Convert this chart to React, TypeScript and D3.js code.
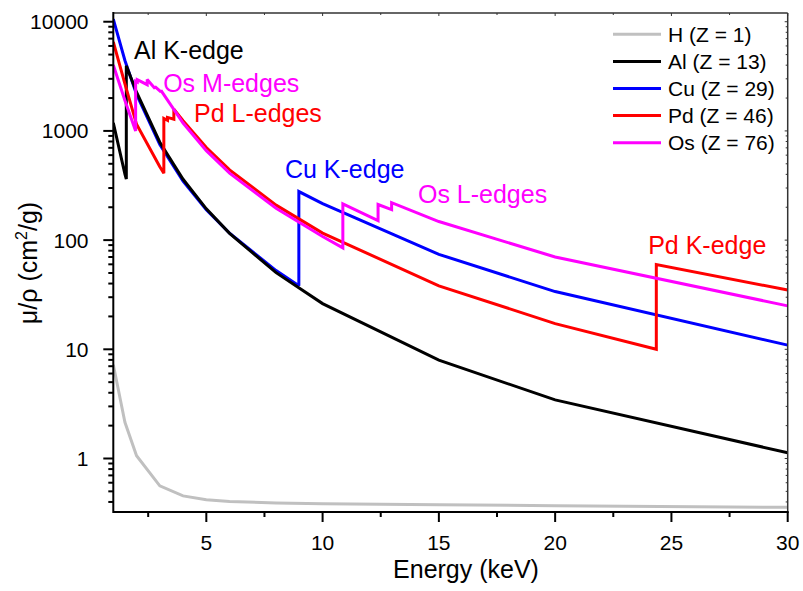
import React from "react";
import * as d3 from "d3";

// ---- Data (NIST-style mass attenuation coefficients) ----
const hEnergy = [1, 1.5, 2, 3, 4, 5, 6, 8, 10, 15, 20, 30];
const hMu = [7.217, 2.148, 1.059, 0.5612, 0.4546, 0.4193, 0.4042, 0.3914, 0.3854, 0.3764, 0.3695, 0.357];

const alEnergy = [1, 1.5, 1.5596, 1.5596, 2, 3, 4, 5, 6, 8, 10, 15, 20, 30];
const alMu = [1185, 402.2, 362.1, 3957, 2263, 788, 360.5, 193.4, 115.3, 50.33, 26.23, 7.955, 3.441, 1.128];

const cuEnergy = [1, 1.5, 2, 3, 4, 5, 6, 8, 8.9789, 8.9789, 10, 15, 20, 30];
const cuMu = [10570, 4418, 2154, 748.8, 347.8, 189.9, 115.6, 52.55, 38.29, 278.4, 215.9, 74.05, 33.79, 10.92];

const pdEnergy = [1, 1.5, 2, 3, 3.1733, 3.1733, 3.3303, 3.3303, 3.6043, 3.6043, 4, 5, 6, 8, 10, 15, 20, 24.3503, 24.3503, 30];
const pdMu = [6530, 2700, 1150, 470, 410, 1300, 1250, 1330, 1280, 1580, 1240, 705, 440, 209, 116, 38.1, 17.2, 10.0, 59.6, 34.9];

const osEnergy = [1, 1.5, 1.9601, 1.9601, 2.0308, 2.0308, 2.4572, 2.4572, 2.7922, 2.7922, 3.0485, 3.0485, 4, 5, 6, 8, 10, 10.8709, 10.8709, 12.385, 12.385, 12.968, 12.968, 15, 20, 30];
const osMu = [4015, 1900, 1000, 2850, 2800, 2950, 2650, 2950, 2450, 2550, 2280, 2350, 1180, 660, 410, 196, 108, 85, 215, 151, 212, 190, 220, 148, 70, 25];

const seriesNames = ["H (Z = 1)", "Al (Z = 13)", "Cu (Z = 29)", "Pd (Z = 46)", "Os (Z = 76)"];
const seriesColors = ["#c0c0c0", "#000000", "#0000ff", "#ff0000", "#ff00ff"];

const xMajorTicks = [5, 10, 15, 20, 25, 30];
const xMinorTicks = [2.5, 7.5, 12.5, 17.5, 22.5, 27.5];
const yMajorTicks = [1, 10, 100, 1000, 10000];

const annotations = [
  { text: "Al K-edge", x: 1.89, y: 4530, color: "#000000" },
  { text: "Os M-edges", x: 3.145, y: 2270, color: "#ff00ff" },
  { text: "Pd L-edges", x: 4.47, y: 1214, color: "#ff0000" },
  { text: "Cu K-edge", x: 8.38, y: 368, color: "#0000ff" },
  { text: "Os L-edges", x: 14.1, y: 219, color: "#ff00ff" },
  { text: "Pd K-edge", x: 24.0, y: 74.6, color: "#ff0000" },
];

const W = 803;
const H = 591;
const left = 113.3;
const right = 787.7;
const top = 13;
const bottom = 512;
const FONT = "'Liberation Sans', Arial, Helvetica, sans-serif";

export default function App() {
  const x = d3.scaleLinear().domain([1, 30]).range([left, right]);
  const y = d3.scaleLog().domain([0.3236, 12020]).range([bottom, top]);

  const line = d3
    .line<[number, number]>()
    .x((d) => x(d[0]))
    .y((d) => y(d[1]));

  const series = [
    { e: hEnergy, m: hMu },
    { e: alEnergy, m: alMu },
    { e: cuEnergy, m: cuMu },
    { e: pdEnergy, m: pdMu },
    { e: osEnergy, m: osMu },
  ].map((s, i) => ({
    name: seriesNames[i],
    color: seriesColors[i],
    pts: s.e.map((v, j) => [v, s.m[j]] as [number, number]),
  }));

  // drawing order: H, Cu, Al, Pd, Os
  const drawOrder = [0, 2, 1, 3, 4];

  const yMinor = y.ticks().filter((t) => !yMajorTicks.some((m) => Math.abs(m - t) < 1e-9));

  return (
    <svg
      width={W}
      height={H}
      style={{ position: "absolute", left: 0, top: 0, background: "#fff" }}
      fontFamily={FONT}
    >
      <defs>
        <clipPath id="plotclip">
          <rect x={left} y={top} width={right - left} height={bottom - top} />
        </clipPath>
      </defs>
      <rect x={0} y={0} width={W} height={H} fill="#fff" />

      {/* series */}
      <g clipPath="url(#plotclip)">
        {drawOrder.map((i) => (
          <path
            key={i}
            d={line(series[i].pts) || ""}
            fill="none"
            stroke={series[i].color}
            strokeWidth={3}
            strokeLinejoin="miter"
            strokeMiterlimit={2}
          />
        ))}
      </g>

      {/* frame */}
      <line x1={left} x2={right} y1={top} y2={top} stroke="#333" strokeWidth={1.5} />
      <line x1={right} x2={right} y1={top} y2={bottom} stroke="#333" strokeWidth={1.5} />
      <line x1={left} x2={right + 1} y1={bottom} y2={bottom} stroke="#000" strokeWidth={2} />
      <line x1={left} x2={left} y1={top - 1} y2={bottom + 1} stroke="#000" strokeWidth={2} />

      {/* x ticks */}
      {xMajorTicks.map((t) => (
        <g key={"xM" + t}>
          <line x1={x(t)} x2={x(t)} y1={bottom} y2={bottom + 10} stroke="#000" strokeWidth={2} />
          <line x1={x(t)} x2={x(t)} y1={top} y2={top + 3} stroke="#333" strokeWidth={1} />
          <text x={x(t)} y={550} textAnchor="middle" fontSize={21} fill="#000">
            {t}
          </text>
        </g>
      ))}
      {xMinorTicks.map((t) => (
        <g key={"xm" + t}>
          <line x1={x(t)} x2={x(t)} y1={bottom} y2={bottom + 5} stroke="#000" strokeWidth={2} />
          <line x1={x(t)} x2={x(t)} y1={top} y2={top + 2} stroke="#333" strokeWidth={1} />
        </g>
      ))}

      {/* y ticks */}
      {yMajorTicks.map((t) => (
        <g key={"yM" + t}>
          <line x1={left - 10} x2={left} y1={y(t)} y2={y(t)} stroke="#000" strokeWidth={2} />
          <line x1={right - 3} x2={right} y1={y(t)} y2={y(t)} stroke="#333" strokeWidth={1} />
          <text x={88.5} y={y(t) + 7.5} textAnchor="end" fontSize={21} fill="#000">
            {t}
          </text>
        </g>
      ))}
      {yMinor.map((t) => (
        <g key={"ym" + t}>
          <line x1={left - 5} x2={left} y1={y(t)} y2={y(t)} stroke="#000" strokeWidth={2} />
          <line x1={right - 2} x2={right} y1={y(t)} y2={y(t)} stroke="#333" strokeWidth={1} />
        </g>
      ))}

      {/* axis titles */}
      <text x={466} y={578} textAnchor="middle" fontSize={25} fill="#000">
        Energy (keV)
      </text>
      <text
        transform="translate(37,263) rotate(-90)"
        textAnchor="middle"
        fontSize={25}
        fill="#000"
      >
        μ/ρ (cm
        <tspan dy={-10} fontSize={16}>
          2
        </tspan>
        <tspan dy={10}>/g)</tspan>
      </text>

      {/* annotations */}
      {annotations.map((a) => (
        <text key={a.text} x={x(a.x)} y={y(a.y)} fontSize={25} fill={a.color}>
          {a.text}
        </text>
      ))}

      {/* legend */}
      {series.map((s, i) => {
        const cy = 34.3 + i * 27.1;
        return (
          <g key={"lg" + i}>
            <line x1={613} x2={661} y1={cy} y2={cy} stroke={s.color} strokeWidth={3} />
            <text x={668} y={cy + 7.5} fontSize={21} fill="#000">
              {s.name}
            </text>
          </g>
        );
      })}
    </svg>
  );
}
